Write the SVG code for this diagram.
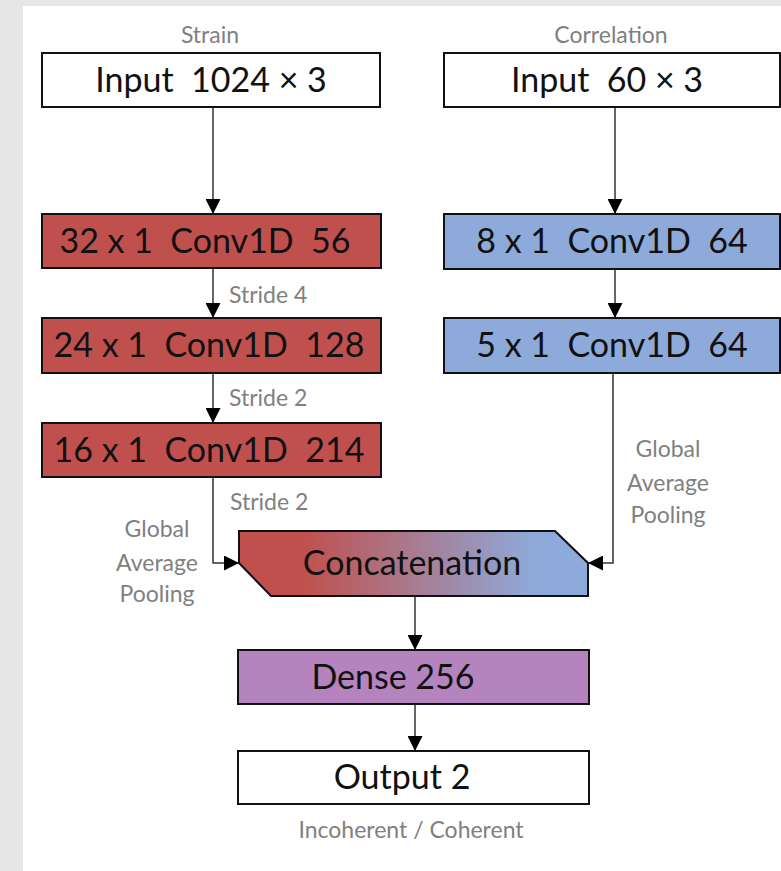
<svg xmlns="http://www.w3.org/2000/svg" width="781" height="871" viewBox="0 0 781 871" xml:space="preserve">
<style>
.box{stroke:#111;stroke-width:2}
.t{font-family:Lato,"Liberation Sans",sans-serif;font-size:34px;fill:#111;text-anchor:middle;white-space:pre}
.g{font-family:Lato,"Liberation Sans",sans-serif;font-size:23px;fill:#808080}
.c{text-anchor:middle}
.ln{fill:none;stroke:#333;stroke-width:1.5}
</style>
<defs>
<marker id="ah" viewBox="0 0 10 10" refX="10" refY="5" markerWidth="15" markerHeight="15" markerUnits="userSpaceOnUse" orient="auto">
<path d="M0,0 L10,5 L0,10 Z" fill="#000"/>
</marker>
<linearGradient id="grad" x1="0" y1="0" x2="1" y2="0">
<stop offset="0" stop-color="#c0504d"/>
<stop offset="0.18" stop-color="#c0504d"/>
<stop offset="0.85" stop-color="#8eaadb"/>
<stop offset="1" stop-color="#8eaadb"/>
</linearGradient>
</defs>
<rect x="0" y="0" width="781" height="871" fill="#e6e6e6"/>
<rect x="23" y="6" width="758" height="865" fill="#fff"/>

<g id="connectors">
<path class="ln" d="M213,107 V214" marker-end="url(#ah)"/>
<path class="ln" d="M615,107 V214" marker-end="url(#ah)"/>
<path class="ln" d="M213,268 V318" marker-end="url(#ah)"/>
<path class="ln" d="M213,373 V423" marker-end="url(#ah)"/>
<path class="ln" d="M615,269 V318" marker-end="url(#ah)"/>
<path class="ln" d="M213,477 V563 H239" marker-end="url(#ah)"/>
<path class="ln" d="M613,373 V563 H588" marker-end="url(#ah)"/>
<path class="ln" d="M415,596 V650" marker-end="url(#ah)"/>
<path class="ln" d="M415,704 V751" marker-end="url(#ah)"/>
</g>

<g id="labels">
<text class="g c" x="210" y="43">Strain</text>
<text class="g c" x="611" y="43">Correlation</text>
<text class="g" x="229" y="303">Stride 4</text>
<text class="g" x="229" y="406">Stride 2</text>
<text class="g" x="230" y="510">Stride 2</text>
<text class="g c" x="157" y="537">Global</text>
<text class="g c" x="157" y="571">Average</text>
<text class="g c" x="157" y="602">Pooling</text>
<text class="g c" x="668" y="457">Global</text>
<text class="g c" x="668" y="491">Average</text>
<text class="g c" x="668" y="523">Pooling</text>
<text class="g c" x="411" y="838">Incoherent / Coherent</text>
</g>

<g id="input-strain">
<rect class="box" x="42" y="53" width="338" height="54" fill="#fff"/>
<text class="t" x="211" y="92">Input  1024 × 3</text>
</g>
<g id="input-corr">
<rect class="box" x="444" y="53" width="336" height="54" fill="#fff"/>
<text class="t" x="607" y="92">Input  60 × 3</text>
</g>
<g id="conv-s1">
<rect class="box" x="42" y="214" width="339" height="54" fill="#c0504d"/>
<text class="t" x="205" y="253">32 x 1  Conv1D  56</text>
</g>
<g id="conv-s2">
<rect class="box" x="42" y="318" width="339" height="55" fill="#c0504d"/>
<text class="t" x="209" y="357">24 x 1  Conv1D  128</text>
</g>
<g id="conv-s3">
<rect class="box" x="42" y="423" width="339" height="54" fill="#c0504d"/>
<text class="t" x="209" y="462">16 x 1  Conv1D  214</text>
</g>
<g id="conv-c1">
<rect class="box" x="444" y="214" width="336" height="55" fill="#8eaadb"/>
<text class="t" x="612" y="253">8 x 1  Conv1D  64</text>
</g>
<g id="conv-c2">
<rect class="box" x="444" y="318" width="336" height="55" fill="#8eaadb"/>
<text class="t" x="612" y="357">5 x 1  Conv1D  64</text>
</g>
<g id="concat">
<polygon class="box" points="239,531 555,531 588,563 588,596 271,596 239,563" fill="url(#grad)"/>
<text class="t" x="412" y="575">Concatenation</text>
</g>
<g id="dense">
<rect class="box" x="238" y="650" width="351" height="54" fill="#b584bf"/>
<text class="t" x="393" y="689">Dense 256</text>
</g>
<g id="output">
<rect class="box" x="238" y="751" width="351" height="53" fill="#fff"/>
<text class="t" x="402" y="789">Output 2</text>
</g>
</svg>
